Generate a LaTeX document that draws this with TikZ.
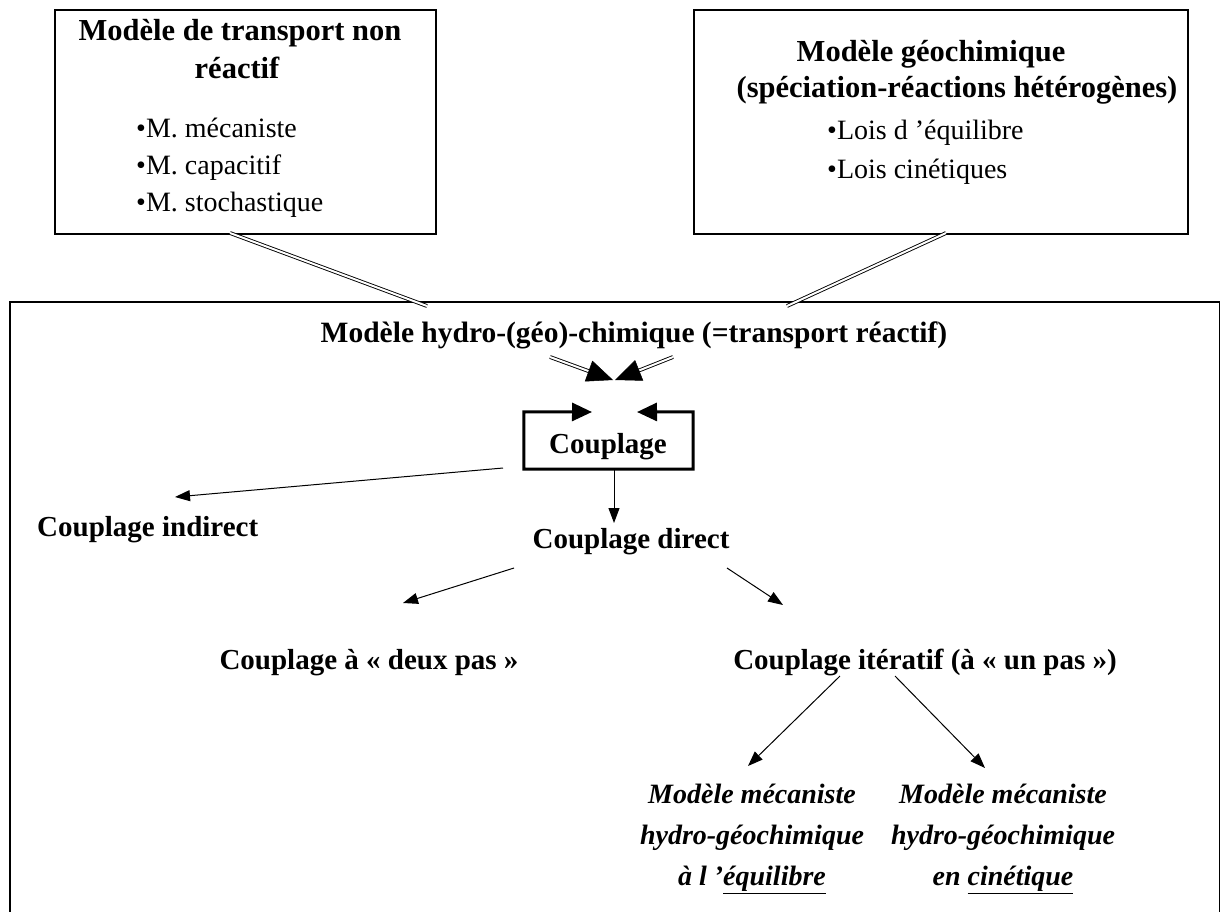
\documentclass[tikz,border=0pt]{standalone}
\usepackage{fontspec}
\setmainfont{Liberation Serif}
\usetikzlibrary{arrows.meta,calc}
\begin{document}
\begin{tikzpicture}[x=1pt,y=-1pt,
  frame/.style={draw=black, line width=1.5pt, inner sep=0pt},
  titl/.style={font=\fontsize{30.5}{34}\selectfont\bfseries, inner sep=0pt, anchor=base},
  itm/.style={font=\fontsize{28}{32}\selectfont, inner sep=0pt, anchor=base west},
  lab/.style={font=\fontsize{29}{34}\selectfont\bfseries, inner sep=0pt, anchor=base},
  ital/.style={font=\fontsize{28}{41}\selectfont\bfseries\itshape, inner sep=0pt, align=center, anchor=north},
  thinarrow/.style={line width=1pt, -{Triangle[length=15pt,width=11pt]}},
  dbl/.style={double=white, double distance=2pt, line width=0.9pt},
  bighead/.style={line width=0.5pt, -{Triangle[length=26pt,width=22pt]}},
  loophead/.style={line width=3pt, {Triangle[length=20pt,width=18pt]}-{Triangle[length=20pt,width=18pt]}}
]
\useasboundingbox (0,0) rectangle (1220,911);
% boxes
\node[frame, anchor=north west, minimum width=381pt, minimum height=224pt] (tbox) at (54,9) {};
\node[frame, anchor=north west, minimum width=494pt, minimum height=224pt] (gbox) at (693,9) {};
\node[draw=black, line width=2pt, anchor=north west, minimum width=1210pt, minimum height=660pt] (mbox) at (9,301) {};
% left box text
\node[titl] (t1) at (240,40) {Modèle de transport non};
\node[titl] (t2) at (237,78) {réactif};
\node[itm] (b1) at (136,137) {•M. mécaniste};
\node[itm] (b2) at (136,174) {•M. capacitif};
\node[itm] (b3) at (136,211) {•M. stochastique};
% right box text
\node[titl] (g1) at (931,61) {Modèle géochimique};
\node[titl] (g2) at (957,97) {(spéciation-réactions hétérogènes)};
\node[itm] (c1) at (827,139) {•Lois d ’équilibre};
\node[itm] (c2) at (827,178) {•Lois cinétiques};
% main title
\node[lab, font=\fontsize{29.5}{34}\selectfont\bfseries] (main) at (634,342) {Modèle hydro-(géo)-chimique (=transport réactif)};
% double lines
\coordinate (L1) at (230,233);
\coordinate (L2) at (427,306);
\coordinate (L3) at (550,357);
\coordinate (LT) at (613,380);
\coordinate (R1) at (946,233);
\coordinate (R2) at (787,306);
\coordinate (R3) at (673,357);
\coordinate (RT) at (615,380);
\draw[dbl] (L1) -- (L2);
\draw[dbl] (R1) -- (R2);
\coordinate (LB) at ($(LT)!24pt!(L3)$);
\coordinate (RB) at ($(RT)!24pt!(R3)$);
\draw[dbl] (L3) -- (LB);
\draw[dbl] (R3) -- (RB);
\draw[bighead] (LB) -- (LT);
\draw[bighead] (RB) -- (RT);
% coupling box
\node[lab, anchor=center, minimum width=169pt, minimum height=57pt] (cbox) at (608.5,440.5) {};
\node[lab] (coupl) at (608,453) {Couplage};
\coordinate (CL) at (592,412);
\coordinate (CR) at (637,412);
\draw[loophead] (CL) -- (cbox.north west) -- (cbox.south west) -- (cbox.south east) -- (cbox.north east) -- (CR);
% labels
\node[lab, anchor=base west] (ind) at (37,536) {Couplage indirect};
\node[lab] (dir) at (631,548) {Couplage direct};
\node[lab] (deux) at (369,669) {Couplage à « deux pas »};
\node[lab] (iter) at (925,669) {Couplage itératif (à « un pas »)};
\node[ital] (eq) at (752,784) {Modèle mécaniste\\hydro-géochimique\\à l ’\underline{équilibre}};
\node[ital] (cin) at (1003,784) {Modèle mécaniste\\hydro-géochimique\\en \underline{cinétique}};
% thin arrows
\coordinate (a1) at (503,468);
\coordinate (a1t) at (175,497);
\draw[thinarrow] (a1) -- (a1t);
\coordinate (a2) at (614,469);
\coordinate (a2t) at (614,523);
\draw[thinarrow] (a2) -- (a2t);
\coordinate (a3) at (514,568);
\coordinate (a3t) at (403,603);
\draw[thinarrow] (a3) -- (a3t);
\coordinate (a4) at (727,568);
\coordinate (a4t) at (783,605);
\draw[thinarrow] (a4) -- (a4t);
\coordinate (a5) at (840,676);
\coordinate (a5t) at (748,766);
\draw[thinarrow] (a5) -- (a5t);
\coordinate (a6) at (895,676);
\coordinate (a6t) at (985,768);
\draw[thinarrow] (a6) -- (a6t);
\end{tikzpicture}
\end{document}
